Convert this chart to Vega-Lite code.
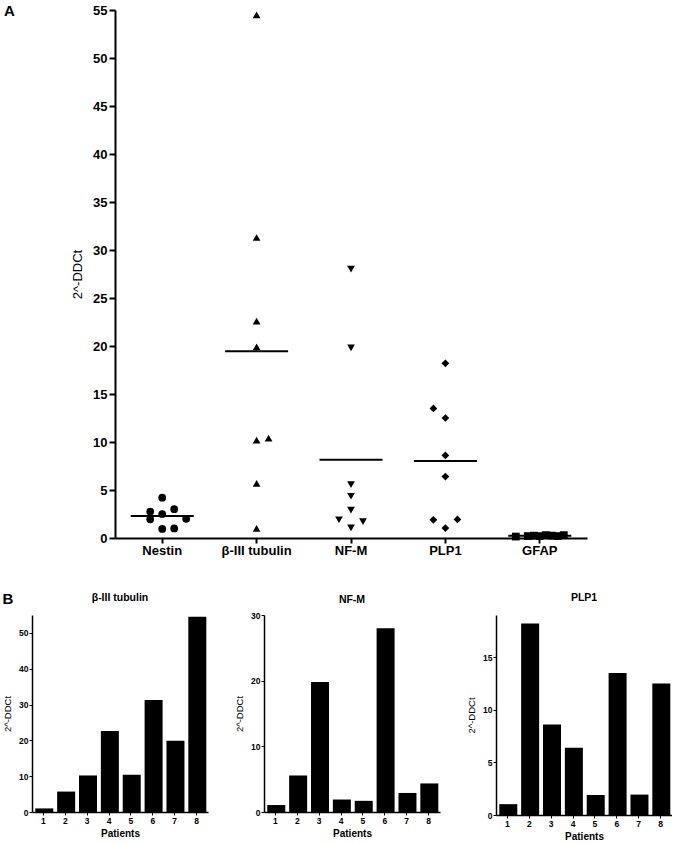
{
  "$schema": "https://vega.github.io/schema/vega-lite/v6.json",
  "padding": {"left": 2, "top": 4, "right": 0, "bottom": 0},
  "background": "white",
  "datasets": {
    "expr": [
      {"gene": "Nestin", "patient": 1, "value": 4.2, "lane": 0},
      {"gene": "Nestin", "patient": 2, "value": 2.75, "lane": -1},
      {"gene": "Nestin", "patient": 3, "value": 2.5, "lane": 0},
      {"gene": "Nestin", "patient": 4, "value": 3.0, "lane": 1},
      {"gene": "Nestin", "patient": 5, "value": 1.95, "lane": -1},
      {"gene": "Nestin", "patient": 6, "value": 2.0, "lane": 2},
      {"gene": "Nestin", "patient": 7, "value": 0.95, "lane": 0},
      {"gene": "Nestin", "patient": 8, "value": 1.0, "lane": 1},
      {"gene": "β-III tubulin", "patient": 1, "value": 1.0, "lane": 0},
      {"gene": "β-III tubulin", "patient": 2, "value": 5.7, "lane": 0},
      {"gene": "β-III tubulin", "patient": 3, "value": 10.2, "lane": 0},
      {"gene": "β-III tubulin", "patient": 4, "value": 22.6, "lane": 0},
      {"gene": "β-III tubulin", "patient": 5, "value": 10.4, "lane": 1},
      {"gene": "β-III tubulin", "patient": 6, "value": 31.3, "lane": 0},
      {"gene": "β-III tubulin", "patient": 7, "value": 19.9, "lane": 0},
      {"gene": "β-III tubulin", "patient": 8, "value": 54.5, "lane": 0},
      {"gene": "NF-M", "patient": 1, "value": 1.06, "lane": 0},
      {"gene": "NF-M", "patient": 2, "value": 5.56, "lane": 0},
      {"gene": "NF-M", "patient": 3, "value": 19.8, "lane": 0},
      {"gene": "NF-M", "patient": 4, "value": 1.9, "lane": -1},
      {"gene": "NF-M", "patient": 5, "value": 1.7, "lane": 1},
      {"gene": "NF-M", "patient": 6, "value": 28.0, "lane": 0},
      {"gene": "NF-M", "patient": 7, "value": 2.9, "lane": 0},
      {"gene": "NF-M", "patient": 8, "value": 4.35, "lane": 0},
      {"gene": "PLP1", "patient": 1, "value": 1.03, "lane": 0},
      {"gene": "PLP1", "patient": 2, "value": 18.2, "lane": 0},
      {"gene": "PLP1", "patient": 3, "value": 8.6, "lane": 0},
      {"gene": "PLP1", "patient": 4, "value": 6.4, "lane": 0},
      {"gene": "PLP1", "patient": 5, "value": 1.9, "lane": -1},
      {"gene": "PLP1", "patient": 6, "value": 13.5, "lane": -1},
      {"gene": "PLP1", "patient": 7, "value": 1.94, "lane": 1},
      {"gene": "PLP1", "patient": 8, "value": 12.5, "lane": 0},
      {"gene": "GFAP", "patient": 1, "value": 0.15, "lane": -2},
      {"gene": "GFAP", "patient": 2, "value": 0.2, "lane": -1},
      {"gene": "GFAP", "patient": 3, "value": 0.25, "lane": -0.5},
      {"gene": "GFAP", "patient": 4, "value": 0.2, "lane": 0},
      {"gene": "GFAP", "patient": 5, "value": 0.3, "lane": 0.5},
      {"gene": "GFAP", "patient": 6, "value": 0.25, "lane": 1},
      {"gene": "GFAP", "patient": 7, "value": 0.2, "lane": 1.5},
      {"gene": "GFAP", "patient": 8, "value": 0.3, "lane": 2}
    ]
  },
  "config": {
    "font": "Liberation Sans",
    "view": {"stroke": null},
    "axis": {
      "domainColor": "black",
      "tickColor": "black",
      "labelColor": "black",
      "titleColor": "black",
      "grid": false
    },
    "title": {"color": "black"}
  },
  "spacing": 34,
  "vconcat": [
    {
      "spacing": 0,
      "hconcat": [
        {
          "width": 39,
          "height": 1,
          "title": {"text": "A", "orient": "bottom", "anchor": "start", "frame": "group", "dx": -28, "offset": -7, "fontSize": 15, "fontWeight": "bold"},
          "data": {"values": []},
          "mark": "point"
        },
        {
          "width": 472,
          "height": 528,
          "data": {"name": "expr"},
          "layer": [
            {
              "mark": {"type": "point", "filled": true, "size": 60, "color": "black", "opacity": 1},
              "encoding": {
                "x": {
                  "field": "gene", "type": "nominal",
                  "sort": ["Nestin", "β-III tubulin", "NF-M", "PLP1", "GFAP"],
                  "scale": {"paddingInner": 0, "paddingOuter": 0},
                  "axis": {"title": null, "labelAngle": 0, "labelFontSize": 13, "labelFontWeight": "bold", "tickSize": 5, "tickWidth": 2, "domainWidth": 2, "labelPadding": 1}
                },
                "xOffset": {"field": "lane", "type": "quantitative", "scale": {"domain": [-2, 2], "range": [23.2, 71.2]}},
                "y": {
                  "field": "value", "type": "quantitative",
                  "scale": {"domain": [0, 55], "nice": false},
                  "axis": {"title": "2^-DDCt", "values": [0, 5, 10, 15, 20, 25, 30, 35, 40, 45, 50, 55], "labelFontSize": 13, "labelFontWeight": "bold", "tickSize": 6, "tickWidth": 2, "domainWidth": 2, "titleFontSize": 13, "titleFontWeight": "normal", "titleColor": "black", "titlePadding": 8, "labelPadding": 2}
                },
                "shape": {
                  "field": "gene", "type": "nominal",
                  "scale": {"domain": ["Nestin", "β-III tubulin", "NF-M", "PLP1", "GFAP"], "range": ["circle", "triangle-up", "triangle-down", "diamond", "square"]},
                  "legend": null
                }
              }
            },
            {
              "mark": {"type": "tick", "color": "black", "thickness": 2, "size": 63},
              "encoding": {
                "x": {"field": "gene", "type": "nominal", "sort": ["Nestin", "β-III tubulin", "NF-M", "PLP1", "GFAP"]},
                "y": {"aggregate": "mean", "field": "value", "type": "quantitative"}
              }
            }
          ]
        }
      ]
    },
    {
      "title": {"text": "B", "anchor": "start", "dy": 14, "fontSize": 15, "fontWeight": "bold", "offset": 0},
      "spacing": 26,
      "hconcat": [
        {
          "width": 176, "height": 197,
          "title": {"text": "β-III tubulin", "fontSize": 10.5, "fontWeight": "bold", "offset": 12},
          "data": {"name": "expr"},
          "transform": [{"filter": "datum.gene === 'β-III tubulin'"}],
          "mark": {"type": "bar", "color": "black"},
          "encoding": {
            "x": {"field": "patient", "type": "ordinal", "scale": {"paddingInner": 0.25, "paddingOuter": 0.15},
              "axis": {"title": "Patients", "labelAngle": 0, "labelFontSize": 8.5, "labelFontWeight": "bold", "tickSize": 3, "domainWidth": 1.5, "titleFontSize": 10, "titleFontWeight": "bold", "titlePadding": 4, "labelPadding": 1}},
            "y": {"field": "value", "type": "quantitative", "scale": {"domain": [0, 55], "nice": false},
              "axis": {"title": "2^-DDCt", "values": [0, 10, 20, 30, 40, 50], "labelFontSize": 8.5, "labelFontWeight": "bold", "tickSize": 3, "domainWidth": 1.5, "titleFontSize": 9.5, "titleFontWeight": "normal", "titleColor": "black", "titlePadding": 6, "labelPadding": 1}}
          }
        },
        {
          "width": 176, "height": 197,
          "title": {"text": "NF-M", "fontSize": 10.5, "fontWeight": "bold", "offset": 6},
          "data": {"name": "expr"},
          "transform": [{"filter": "datum.gene === 'NF-M'"}],
          "mark": {"type": "bar", "color": "black"},
          "encoding": {
            "x": {"field": "patient", "type": "ordinal", "scale": {"paddingInner": 0.25, "paddingOuter": 0.15},
              "axis": {"title": "Patients", "labelAngle": 0, "labelFontSize": 8.5, "labelFontWeight": "bold", "tickSize": 3, "domainWidth": 1.5, "titleFontSize": 10, "titleFontWeight": "bold", "titlePadding": 4, "labelPadding": 1}},
            "y": {"field": "value", "type": "quantitative", "scale": {"domain": [0, 30], "nice": false},
              "axis": {"title": "2^-DDCt", "values": [0, 10, 20, 30], "labelFontSize": 8.5, "labelFontWeight": "bold", "tickSize": 3, "domainWidth": 1.5, "titleFontSize": 9.5, "titleFontWeight": "normal", "titleColor": "black", "titlePadding": 6, "labelPadding": 1}}
          }
        },
        {
          "width": 176, "height": 200,
          "title": {"text": "PLP1", "fontSize": 10.5, "fontWeight": "bold", "offset": 12},
          "data": {"name": "expr"},
          "transform": [{"filter": "datum.gene === 'PLP1'"}],
          "mark": {"type": "bar", "color": "black"},
          "encoding": {
            "x": {"field": "patient", "type": "ordinal", "scale": {"paddingInner": 0.25, "paddingOuter": 0.15},
              "axis": {"title": "Patients", "labelAngle": 0, "labelFontSize": 8.5, "labelFontWeight": "bold", "tickSize": 3, "domainWidth": 1.5, "titleFontSize": 10, "titleFontWeight": "bold", "titlePadding": 4, "labelPadding": 1}},
            "y": {"field": "value", "type": "quantitative", "scale": {"domain": [0, 19], "nice": false},
              "axis": {"title": "2^-DDCt", "values": [0, 5, 10, 15], "labelFontSize": 8.5, "labelFontWeight": "bold", "tickSize": 3, "domainWidth": 1.5, "titleFontSize": 9.5, "titleFontWeight": "normal", "titleColor": "black", "titlePadding": 6, "labelPadding": 1}}
          }
        }
      ]
    }
  ]
}
